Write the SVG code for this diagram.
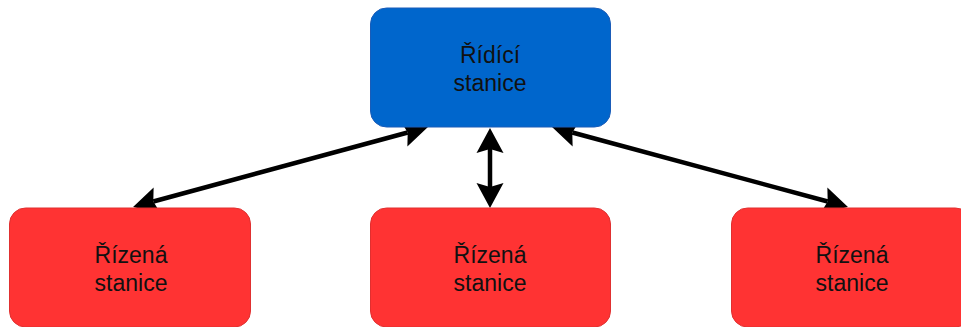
<svg xmlns="http://www.w3.org/2000/svg" width="961" height="327" viewBox="0 0 961 327">
<style>
.box{stroke-width:1}
.ctl{fill:#0066CC;stroke:#1A5CB8}
.sub{fill:#FF3333;stroke:#E03030}
.lbl{font-family:"Liberation Sans",Arial,sans-serif;font-size:23px;fill:#111;text-anchor:middle}
.edge{stroke:#000;stroke-width:4.5;fill:none}
</style>
<defs>
<marker id="ah" markerUnits="userSpaceOnUse" markerWidth="40" markerHeight="40" refX="0" refY="0" orient="auto-start-reverse" overflow="visible">
<path d="M21,0 L-4,-13.5 L0,0 L-4,13.5 Z" fill="#000"/>
</marker>
</defs>
<g id="connectors">
<path class="edge" d="M153.3,201.5 L407.7,132.5" marker-start="url(#ah)" marker-end="url(#ah)"/>
<path class="edge" d="M490,149 L490,187" marker-start="url(#ah)" marker-end="url(#ah)"/>
<path class="edge" d="M572.3,132.5 L827.7,201.5" marker-start="url(#ah)" marker-end="url(#ah)"/>
</g>
<g id="ridici">
<rect class="box ctl" x="370.5" y="8" width="240" height="119" rx="16"/>
<text class="lbl" x="490" y="63">Řídící</text>
<text class="lbl" x="490" y="91">stanice</text>
</g>
<g id="rizena1">
<rect class="box sub" x="9.5" y="208" width="241" height="119" rx="16"/>
<text class="lbl" x="131" y="263">Řízená</text>
<text class="lbl" x="131" y="291">stanice</text>
</g>
<g id="rizena2">
<rect class="box sub" x="370.5" y="208" width="240" height="119" rx="16"/>
<text class="lbl" x="490" y="263">Řízená</text>
<text class="lbl" x="490" y="291">stanice</text>
</g>
<g id="rizena3">
<rect class="box sub" x="731.5" y="208" width="240" height="119" rx="16"/>
<text class="lbl" x="852" y="263">Řízená</text>
<text class="lbl" x="852" y="291">stanice</text>
</g>
</svg>
